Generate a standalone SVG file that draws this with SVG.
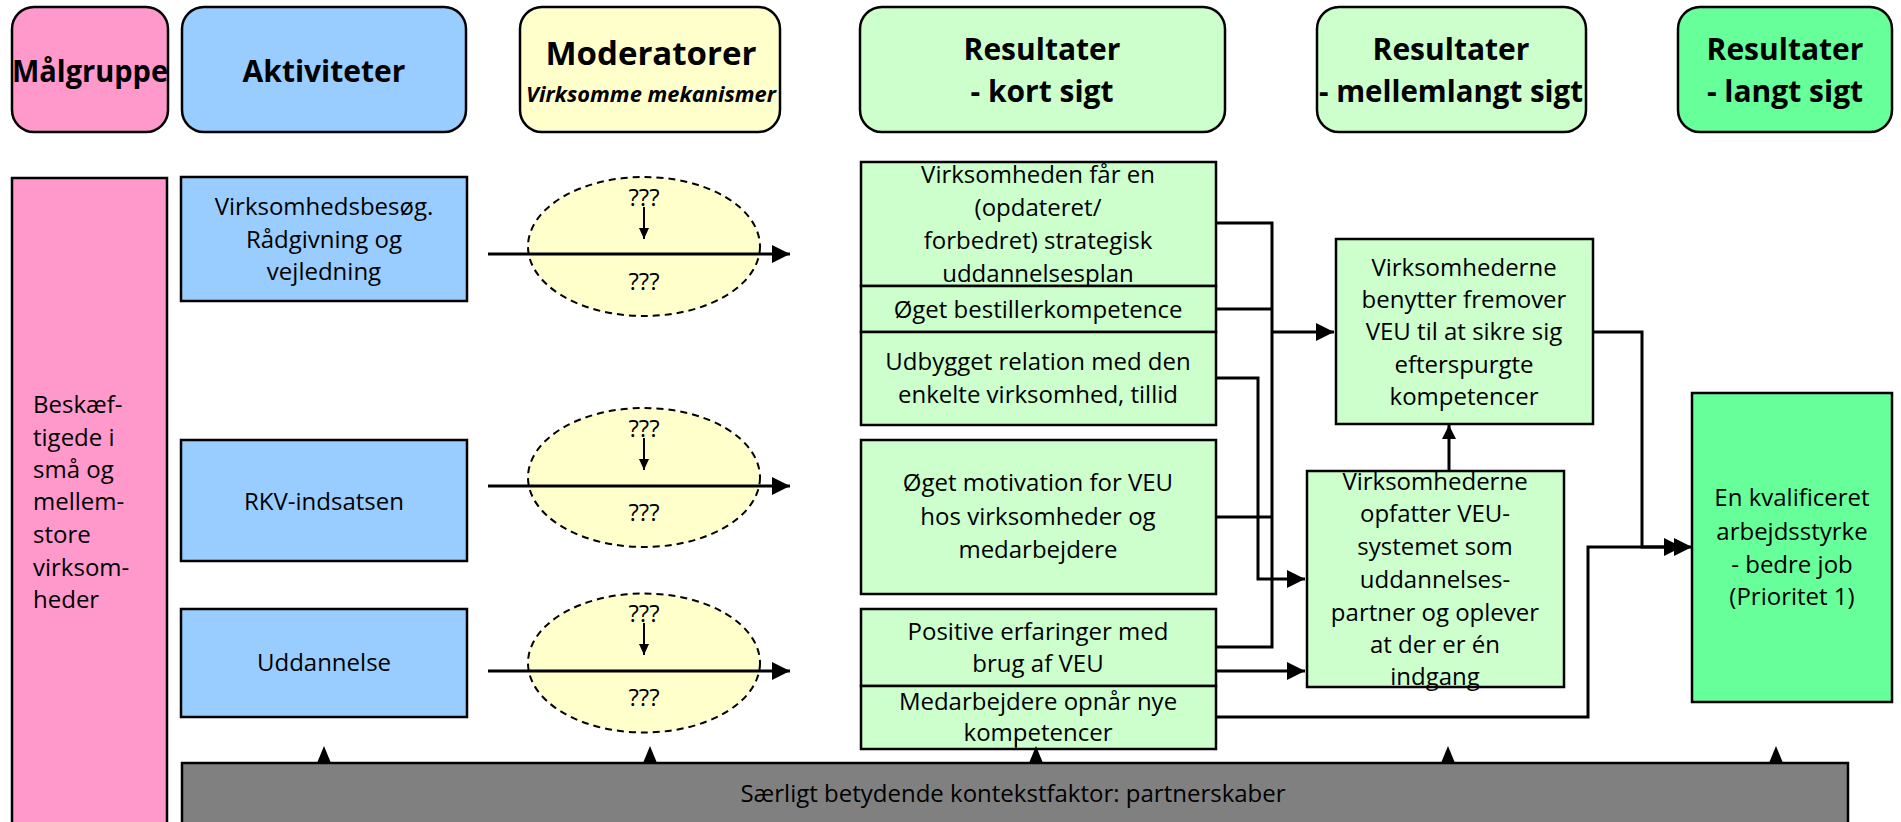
<svg xmlns="http://www.w3.org/2000/svg" width="1901" height="822" viewBox="0 0 1901 822">
<defs>
<style>
.b{stroke:#000;stroke-width:2.5}
.t{font-family:"Open Sans","Liberation Sans",sans-serif;font-size:24px;fill:#000;text-anchor:middle}
.tl{font-family:"Open Sans","Liberation Sans",sans-serif;font-size:24px;fill:#000}
.h{font-family:"Open Sans","Liberation Sans",sans-serif;font-weight:bold;font-size:30px;fill:#000;text-anchor:middle}
.c{fill:none;stroke:#000;stroke-width:3}
.cs{fill:none;stroke:#000;stroke-width:2}
.el{fill:#FFFFCC;stroke:#000;stroke-width:2;stroke-dasharray:7 5}
.pink{fill:#FF99CC}.blue{fill:#99CCFF}.yel{fill:#FFFFCC}.lg{fill:#CCFFCC}.dg{fill:#66FF99}
</style>
<marker id="ah" markerUnits="userSpaceOnUse" markerWidth="18" markerHeight="18" refX="18" refY="9" orient="auto"><path d="M0,0L18,9L0,18z" fill="#000"/></marker>
<marker id="as" markerUnits="userSpaceOnUse" markerWidth="14" markerHeight="14" refX="14" refY="7" orient="auto"><path d="M0,0L14,7L0,14z" fill="#000"/></marker>
<marker id="at" markerUnits="userSpaceOnUse" markerWidth="11" markerHeight="10" refX="11" refY="5" orient="auto"><path d="M0,0L11,5L0,10z" fill="#000"/></marker>
</defs>
<rect x="0" y="0" width="1901" height="822" fill="#fff"/>

<g id="hdr-malgruppe"><rect class="b pink" x="12" y="7" width="156" height="125" rx="22"/><text class="h" x="90" y="82" textLength="156" lengthAdjust="spacingAndGlyphs">Målgruppe</text></g>
<g id="hdr-aktiviteter"><rect class="b blue" x="182" y="7" width="284" height="125" rx="22"/><text class="h" x="324" y="82">Aktiviteter</text></g>
<g id="hdr-moderatorer"><rect class="b yel" x="520" y="7" width="260" height="125" rx="22"/><text class="h" x="651" y="65" style="font-size:33px">Moderatorer</text><text class="h" x="651" y="102" style="font-size:21px;font-style:italic" textLength="250" lengthAdjust="spacingAndGlyphs">Virksomme mekanismer</text></g>
<g id="hdr-kort"><rect class="b lg" x="860" y="7" width="365" height="125" rx="22"/><text class="h" x="1042" y="60">Resultater</text><text class="h" x="1042" y="102">- kort sigt</text></g>
<g id="hdr-mellem"><rect class="b lg" x="1317" y="7" width="269" height="125" rx="22"/><text class="h" x="1451" y="60">Resultater</text><text class="h" x="1451" y="102" textLength="264" lengthAdjust="spacingAndGlyphs">- mellemlangt sigt</text></g>
<g id="hdr-langt"><rect class="b dg" x="1678" y="7" width="214" height="125" rx="22"/><text class="h" x="1785" y="60">Resultater</text><text class="h" x="1785" y="102">- langt sigt</text></g>

<g id="malgruppe"><rect class="b pink" x="12" y="178" width="155" height="660"/>
<text class="tl" x="33" y="413">Beskæf-</text><text class="tl" x="33" y="446">tigede i</text><text class="tl" x="33" y="478">små og</text><text class="tl" x="33" y="510">mellem-</text><text class="tl" x="33" y="543">store</text><text class="tl" x="33" y="576">virksom-</text><text class="tl" x="33" y="608">heder</text></g>

<g id="akt1"><rect class="b blue" x="181" y="177" width="286" height="124"/><text class="t" x="324" y="215">Virksomhedsbesøg.</text><text class="t" x="324" y="248">Rådgivning og</text><text class="t" x="324" y="280">vejledning</text></g>
<g id="akt2"><rect class="b blue" x="181" y="440" width="286" height="121"/><text class="t" x="324" y="510">RKV-indsatsen</text></g>
<g id="akt3"><rect class="b blue" x="181" y="609" width="286" height="108"/><text class="t" x="324" y="671">Uddannelse</text></g>

<g id="mod1"><ellipse class="el" cx="644" cy="246.5" rx="116" ry="69.5"/><text class="t" x="644" y="206">???</text><text class="t" x="644" y="290">???</text></g>
<g id="mod2"><ellipse class="el" cx="644" cy="477.5" rx="116" ry="69.5"/><text class="t" x="644" y="437">???</text><text class="t" x="644" y="521">???</text></g>
<g id="mod3"><ellipse class="el" cx="644" cy="663" rx="116" ry="69.5"/><text class="t" x="644" y="622">???</text><text class="t" x="644" y="706">???</text></g>

<g id="resA"><rect class="b lg" x="861" y="162" width="355" height="124"/><text class="t" x="1038" y="183">Virksomheden får en</text><text class="t" x="1038" y="216">(opdateret/</text><text class="t" x="1038" y="249">forbedret) strategisk</text><text class="t" x="1038" y="282">uddannelsesplan</text></g>
<g id="resB"><rect class="b lg" x="861" y="286" width="355" height="46"/><text class="t" x="1038" y="318">Øget bestillerkompetence</text></g>
<g id="resC"><rect class="b lg" x="861" y="332" width="355" height="93"/><text class="t" x="1038" y="370">Udbygget relation med den</text><text class="t" x="1038" y="403">enkelte virksomhed, tillid</text></g>
<g id="resD"><rect class="b lg" x="861" y="440" width="355" height="154"/><text class="t" x="1038" y="491">Øget motivation for VEU</text><text class="t" x="1038" y="525">hos virksomheder og</text><text class="t" x="1038" y="558">medarbejdere</text></g>
<g id="resE"><rect class="b lg" x="861" y="609" width="355" height="77"/><text class="t" x="1038" y="640">Positive erfaringer med</text><text class="t" x="1038" y="672">brug af VEU</text></g>
<g id="resF"><rect class="b lg" x="861" y="686" width="355" height="63"/><text class="t" x="1038" y="710">Medarbejdere opnår nye</text><text class="t" x="1038" y="741">kompetencer</text></g>

<g id="resG"><rect class="b lg" x="1336" y="239" width="257" height="185"/><text class="t" x="1464" y="276">Virksomhederne</text><text class="t" x="1464" y="308">benytter fremover</text><text class="t" x="1464" y="340">VEU til at sikre sig</text><text class="t" x="1464" y="373">efterspurgte</text><text class="t" x="1464" y="405">kompetencer</text></g>
<g id="resH"><rect class="b lg" x="1307" y="471" width="257" height="216"/><text class="t" x="1435" y="490">Virksomhederne</text><text class="t" x="1435" y="522">opfatter VEU-</text><text class="t" x="1435" y="555">systemet som</text><text class="t" x="1435" y="588">uddannelses-</text><text class="t" x="1435" y="621">partner og oplever</text><text class="t" x="1435" y="653">at der er én</text><text class="t" x="1435" y="685">indgang</text></g>
<g id="resI"><rect class="b dg" x="1692" y="393" width="200" height="309"/><text class="t" x="1792" y="506">En kvalificeret</text><text class="t" x="1792" y="540">arbejdsstyrke</text><text class="t" x="1792" y="573">- bedre job</text><text class="t" x="1792" y="605">(Prioritet 1)</text></g>

<g id="kontekst"><rect x="182" y="763" width="1666" height="80" fill="#808080" stroke="#000" stroke-width="2.5"/><text class="t" x="1013" y="802">Særligt betydende kontekstfaktor: partnerskaber</text></g>

<g id="connectors">
<line class="c" x1="488" y1="254" x2="790" y2="254" marker-end="url(#ah)"/>
<line class="c" x1="488" y1="486" x2="790" y2="486" marker-end="url(#ah)"/>
<line class="c" x1="488" y1="671" x2="790" y2="671" marker-end="url(#ah)"/>
<line class="cs" x1="644" y1="207" x2="644" y2="239" marker-end="url(#at)"/>
<line class="cs" x1="644" y1="438" x2="644" y2="470" marker-end="url(#at)"/>
<line class="cs" x1="644" y1="623" x2="644" y2="655" marker-end="url(#at)"/>
<path class="c" d="M1216,223H1272V647H1216"/>
<path class="c" d="M1216,309H1272M1216,517H1272"/>
<path class="c" d="M1272,332H1334" marker-end="url(#ah)"/>
<path class="c" d="M1216,378H1258V579H1305" marker-end="url(#ah)"/>
<path class="c" d="M1216,671H1305" marker-end="url(#ah)"/>
<path class="c" d="M1216,717H1588V547H1692" marker-end="url(#ah)"/>
<path class="c" d="M1593,332H1642V547H1682" marker-end="url(#ah)"/>
<path class="c" d="M1449,471V425" marker-end="url(#as)"/>
<line x1="1016" y1="738" x2="1016" y2="749" stroke="#000" stroke-width="1.5"/>
<polygon points="317,763 324,746 331,763"/>
<polygon points="643,763 650,746 657,763"/>
<polygon points="1029,763 1036,746 1043,763"/>
<polygon points="1441,763 1448,746 1455,763"/>
<polygon points="1769,763 1776,746 1783,763"/>
</g>
</svg>
